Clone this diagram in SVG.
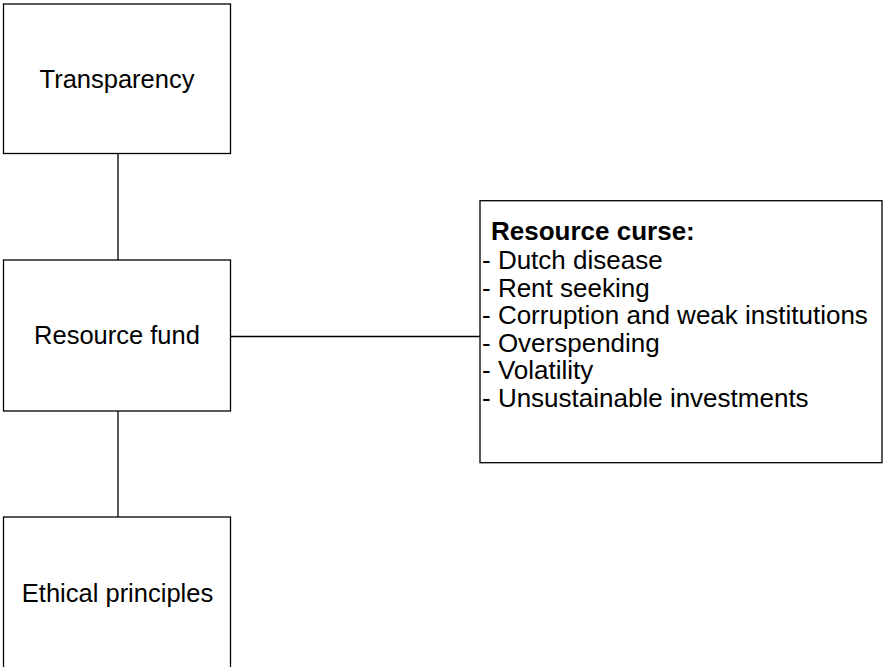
<svg xmlns="http://www.w3.org/2000/svg" width="883" height="667" viewBox="0 0 883 667">
<style>
.box{fill:#fff;stroke:#000;stroke-width:1.3}
.lbl{font-family:"Liberation Sans",Arial,sans-serif;font-size:25.5px;fill:#000}
.c{text-anchor:middle}
.lst{font-family:"Liberation Sans",Arial,sans-serif;font-size:26px;fill:#000}
.b{font-weight:bold}
.con{stroke:#000;stroke-width:1.3;fill:none}
</style>
<rect width="883" height="667" fill="#fff"/>
<g id="connectors">
<line class="con" x1="118" y1="153.5" x2="118" y2="260"/>
<line class="con" x1="118" y1="411" x2="118" y2="517"/>
<line class="con" x1="230.5" y1="336.5" x2="480" y2="336.5"/>
</g>
<g id="transparency">
<rect class="box" x="3.5" y="4" width="227" height="149.5"/>
<text class="lbl c" x="117" y="87.5">Transparency</text>
</g>
<g id="resource-fund">
<rect class="box" x="3.5" y="260" width="227" height="151"/>
<text class="lbl c" x="117" y="343.5">Resource fund</text>
</g>
<g id="ethical-principles">
<rect class="box" x="3.5" y="517" width="227" height="170"/>
<text class="lbl c" x="117.5" y="602">Ethical principles</text>
</g>
<g id="resource-curse">
<rect class="box" x="480" y="200.7" width="402" height="262"/>
<text class="lst b" x="491" y="240">Resource curse:</text>
<text class="lst" x="482" y="269">- Dutch disease</text>
<text class="lst" x="482" y="296.5">- Rent seeking</text>
<text class="lst" x="482" y="324">- Corruption and weak institutions</text>
<text class="lst" x="482" y="351.5">- Overspending</text>
<text class="lst" x="482" y="379">- Volatility</text>
<text class="lst" x="482" y="406.5">- Unsustainable investments</text>
</g>
</svg>
